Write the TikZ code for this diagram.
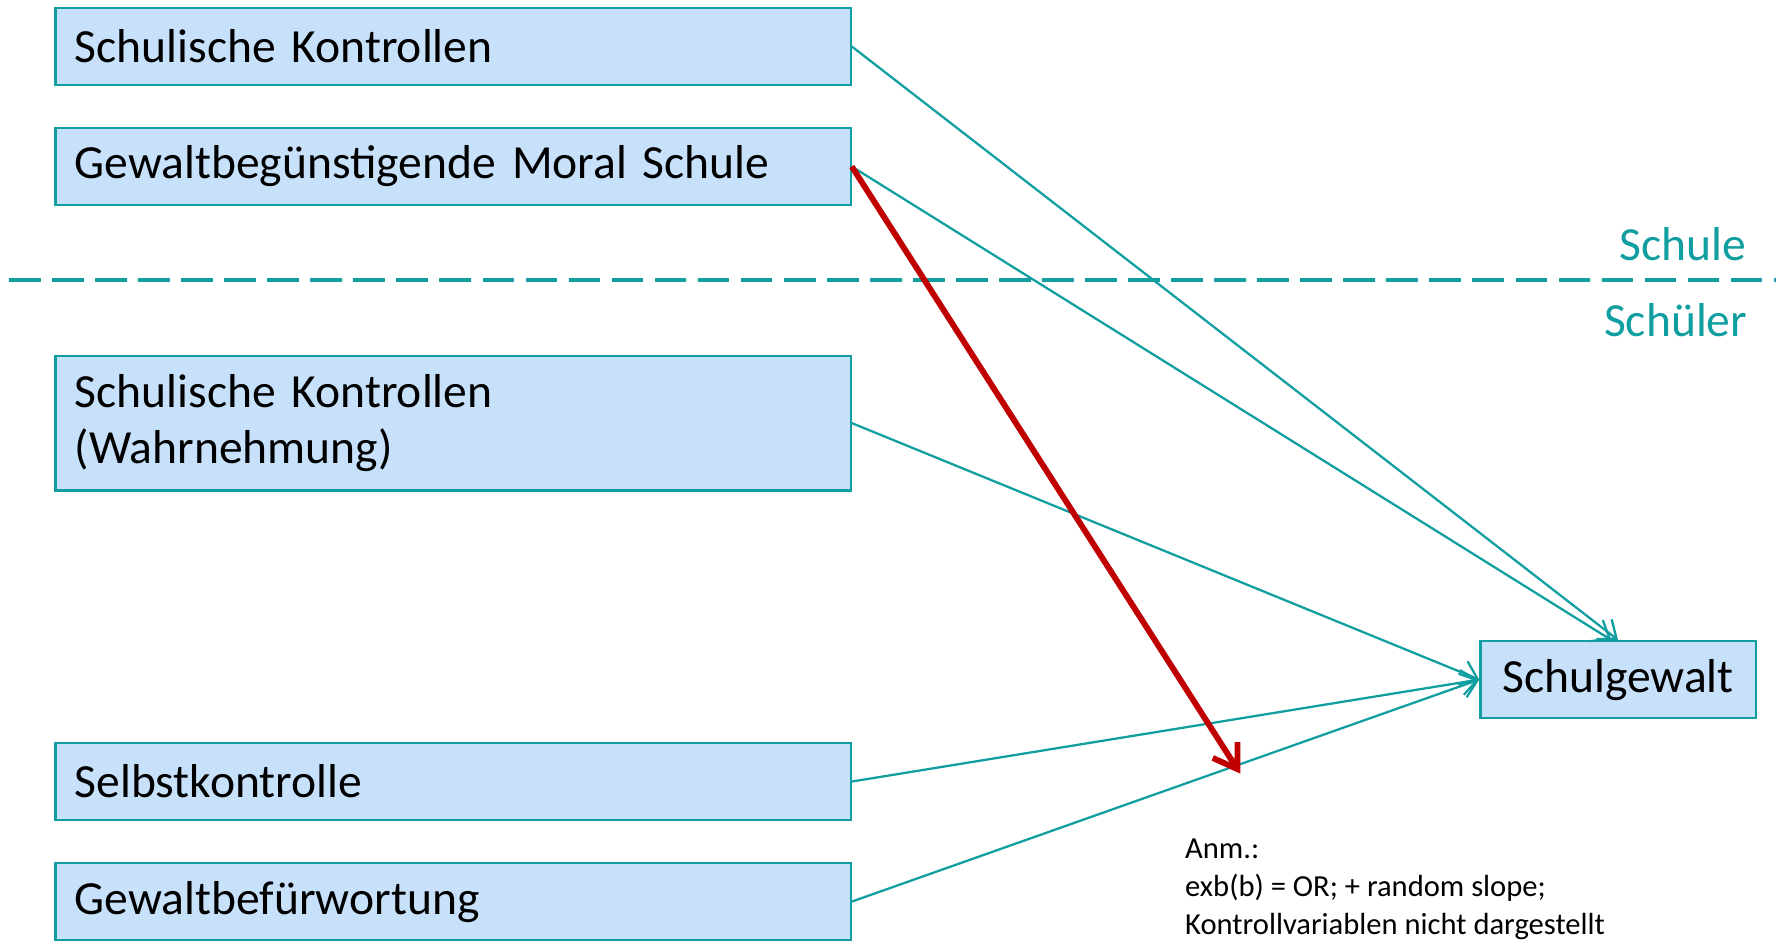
\documentclass[tikz,border=0pt]{standalone}
\usepackage{fontspec}
\setmainfont{Carlito}
\usetikzlibrary{arrows.meta}
\usetikzlibrary{positioning}
\definecolor{tealline}{RGB}{16,158,160}
\definecolor{boxfill}{RGB}{199,225,250}
\definecolor{darkred}{RGB}{192,0,0}
\tikzset{
  boxbase/.style={draw=tealline, line width=1pt, fill=boxfill, minimum height=34pt,
    font=\fontsize{21}{24.5}\selectfont},
  varbox/.style={boxbase, minimum width=351pt, text width=334pt, inner xsep=8.5pt, align=left},
  effect/.style={draw=tealline, line width=1pt, -{Straight Barb[length=7pt,width=11pt]}},
  keyeffect/.style={draw=darkred, line width=2.6pt, -{Straight Barb[length=10pt,width=13pt]}},
}
\begin{document}
\begin{tikzpicture}[x=0.5pt,y=0.5pt,yscale=-1,xscale=1]
\useasboundingbox (0,0) rectangle (1568,831);

% Ebene Schule
\node (kontS) [varbox] at (400,41) {Schulische Kontrollen};
\node (moral) [varbox] at (400,147) {Gewaltbegünstigende Moral Schule};

% Trennlinie
\coordinate (lineL) at (8,247);
\coordinate (lineR) at (1568,247);
\draw [tealline, line width=1.9pt, dash pattern=on 14pt off 5pt] (lineL) -- (lineR);
\node (schule) [anchor=base east, text=tealline, font=\fontsize{21}{24.5}\selectfont, inner sep=0pt] at (1542,230) {Schule};
\node (schueler) [anchor=base east, text=tealline, font=\fontsize{21}{24.5}\selectfont, inner sep=0pt] at (1543,297) {Schüler};

% Ebene Schueler
\node (kontW) [varbox, minimum height=59.5pt] at (400,373.5) {Schulische Kontrollen\\(Wahrnehmung)};
\node (selbst) [varbox] at (400,690) {Selbstkontrolle};
\node (befuer) [varbox] at (400,796) {Gewaltbefürwortung};

% abhaengige Variable
\node (gewalt) [boxbase, minimum width=121.5pt] at (1428.5,600) {Schulgewalt};

% Effekte
\draw [effect] (kontS.east) -- (gewalt.north);
\draw [effect] (moral.east) -- ([xshift=-3]gewalt.north);
\draw [effect] (kontW.east) -- (gewalt.west);
\draw [effect] (selbst.east) -- (gewalt.west);
\draw [effect] (befuer.east) -- (gewalt.west);
\coordinate (redtip) at (1095,683);
\draw [keyeffect] (moral.east) -- (redtip);

% Anmerkung
\node (anm) [anchor=base west, align=left, inner sep=0pt, font=\fontsize{13.5}{16.75}\selectfont] at (1046,825) {Anm.:\\exb(b) = OR; + random slope;\\Kontrollvariablen nicht dargestellt};

\end{tikzpicture}
\end{document}
